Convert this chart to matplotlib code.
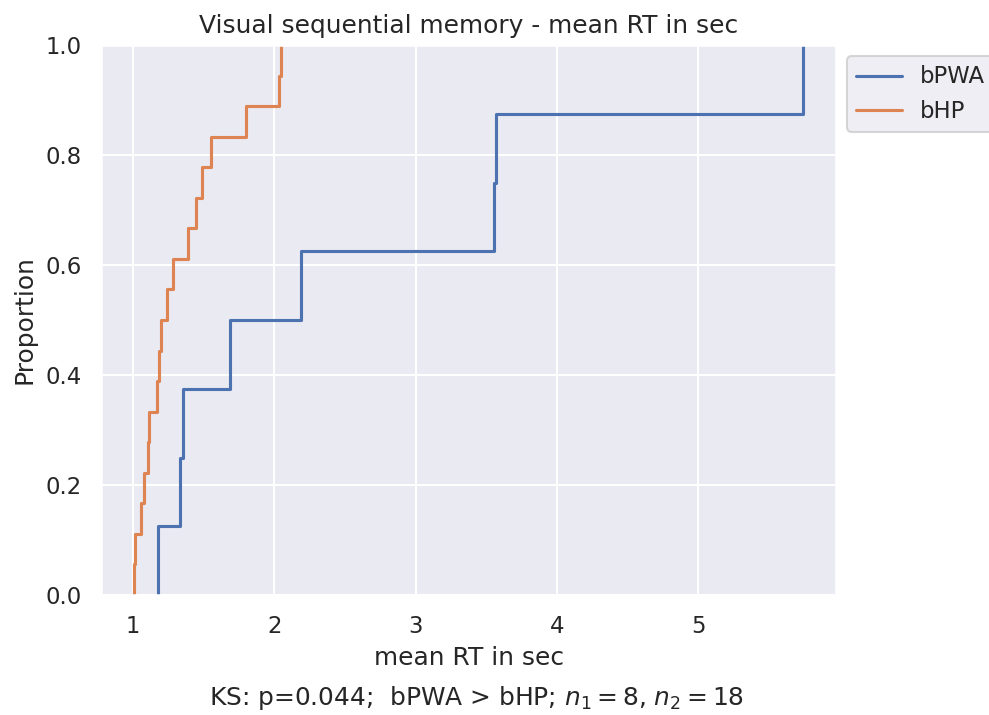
import numpy as np
import matplotlib
matplotlib.use("Agg")
import matplotlib.pyplot as plt
import seaborn as sns

# Mean reaction times (seconds) per participant
bpwa_rt = [1.175, 1.335, 1.354, 1.688, 2.191, 3.558, 3.567, 5.740]
bhp_rt = [1.010, 1.015, 1.058, 1.076, 1.108, 1.116, 1.170, 1.186, 1.198,
          1.240, 1.285, 1.391, 1.445, 1.487, 1.550, 1.800, 2.035, 2.045]
group_labels = ["bPWA", "bHP"]
ks_text = r"KS: p=0.044;  bPWA > bHP; $n_1=8$, $n_2=18$"

sns.set_theme()
palette = sns.color_palette()

DPI = 149
fig = plt.figure(figsize=(989 / DPI, 715 / DPI), dpi=DPI)
ax = fig.add_axes([101 / 989, 1 - 595 / 715, (836 - 101) / 989, (595 - 45) / 715])

sns.ecdfplot(x=bpwa_rt, ax=ax, color=palette[0], label=group_labels[0])
sns.ecdfplot(x=bhp_rt, ax=ax, color=palette[1], label=group_labels[1])

ax.set_title("Visual sequential memory - mean RT in sec")
ax.set_xlabel("mean RT in sec")
ax.set_ylabel("Proportion")
ax.legend(loc="upper left", bbox_to_anchor=(1.0, 1.0))

fig.text(0.482, 1 - 698 / 715, ks_text, ha="center", va="center", fontsize=12)

fig.savefig("out.png", dpi=DPI)
